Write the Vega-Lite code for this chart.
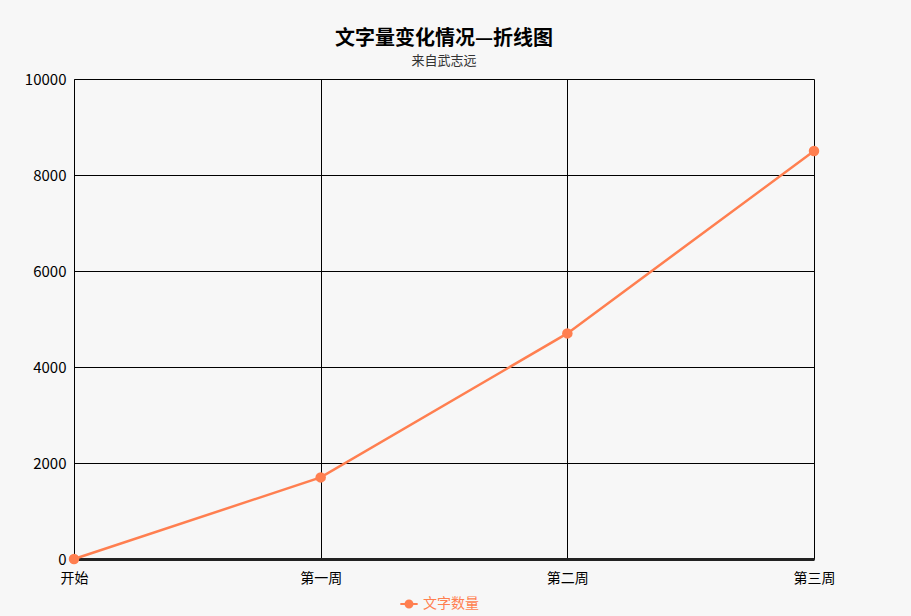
{
  "$schema": "https://vega.github.io/schema/vega-lite/v6.json",
  "width": 740,
  "height": 480,
  "autosize": {"type": "none"},
  "padding": {"left": 74, "top": 79, "right": 97, "bottom": 57},
  "background": "#f7f7f7",
  "config": {
    "view": {"stroke": null},
    "font": "Noto Sans CJK SC"
  },
  "title": {
    "text": "文字量变化情况—折线图",
    "subtitle": "来自武志远",
    "anchor": "middle",
    "fontSize": 20,
    "fontWeight": "bold",
    "color": "#000000",
    "subtitleFontSize": 13,
    "subtitleColor": "#333333",
    "subtitlePadding": 6,
    "offset": 4
  },
  "data": {
    "values": [
      {"week": "开始", "count": 0, "series": "文字数量"},
      {"week": "第一周", "count": 1700, "series": "文字数量"},
      {"week": "第二周", "count": 4700, "series": "文字数量"},
      {"week": "第三周", "count": 8500, "series": "文字数量"}
    ]
  },
  "encoding": {
    "x": {
      "field": "week",
      "type": "ordinal",
      "sort": null,
      "scale": {"type": "point", "padding": 0},
      "axis": {
        "title": null,
        "labelAngle": 0,
        "labelFontSize": 14,
        "labelColor": "#000000",
        "labelPadding": 12,
        "ticks": false,
        "grid": true,
        "gridColor": "#000000",
        "gridOpacity": 1,
        "gridWidth": 1,
        "domainColor": "#222222",
        "domainWidth": 3
      }
    },
    "y": {
      "field": "count",
      "type": "quantitative",
      "scale": {"domain": [0, 10000]},
      "axis": {
        "title": null,
        "format": "d",
        "values": [0, 2000, 4000, 6000, 8000, 10000],
        "labelFontSize": 15,
        "labelColor": "#000000",
        "labelPadding": 8,
        "ticks": false,
        "grid": true,
        "gridColor": "#000000",
        "gridOpacity": 1,
        "gridWidth": 1,
        "domainColor": "#000000",
        "domainWidth": 1
      }
    },
    "color": {
      "field": "series",
      "type": "nominal",
      "scale": {"range": ["#ff7f50"]},
      "legend": {
        "title": null,
        "orient": "none",
        "legendX": 325,
        "legendY": 515,
        "labelColor": "#ff7f50",
        "labelFontSize": 14,
        "symbolType": "M-1,0L-0.45,0M0.45,0L1,0M-0.4,0A0.4,0.4 0 1 1 0.4,0A0.4,0.4 0 1 1 -0.4,0",
        "symbolSize": 300,
        "symbolStrokeWidth": 2,
        "symbolFillColor": "#ff7f50",
        "symbolStrokeColor": "#ff7f50"
      }
    }
  },
  "layer": [
    {"mark": {"type": "line", "strokeWidth": 2.5}},
    {"mark": {"type": "point", "filled": true, "size": 110, "opacity": 1}}
  ]
}
